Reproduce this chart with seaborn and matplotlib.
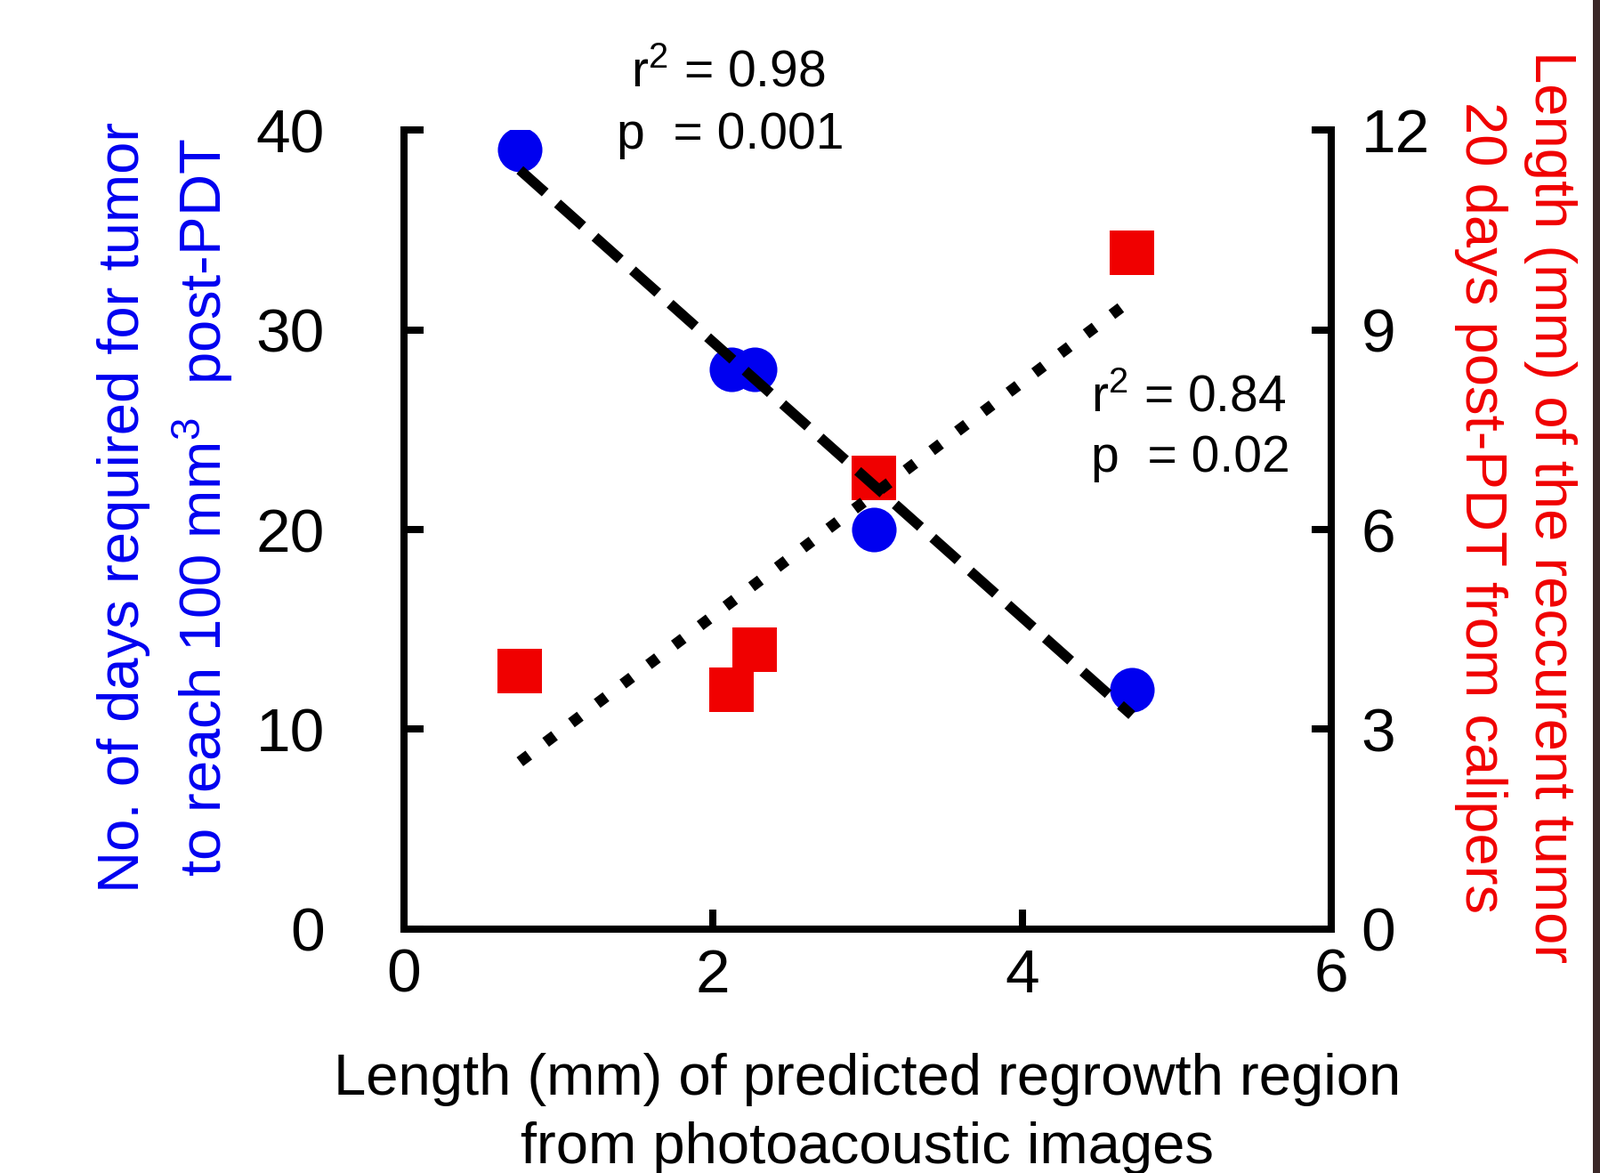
import numpy as np
import pandas as pd
import matplotlib
matplotlib.use("Agg")
import matplotlib.pyplot as plt
from matplotlib.patches import Rectangle
import seaborn as sns

# ---- data ----
pa_length = [0.75, 2.12, 2.27, 3.04, 4.71]          # x: predicted regrowth length (mm)
days_to_100 = [39, 28, 28, 20, 12]                   # left axis (blue circles)
caliper_length = [3.88, 3.59, 4.20, 6.77, 10.15]     # right axis (red squares)

x_ticks = [0, 2, 4, 6]
left_ticks = [0, 10, 20, 30, 40]
right_ticks = [0, 3, 6, 9, 12]

blue = "#0000F0"
red = "#F00000"

sns.set_style("white")
plt.rcParams["font.family"] = ["Liberation Sans", "DejaVu Sans"]
plt.rcParams["mathtext.fontset"] = "custom"
plt.rcParams["mathtext.rm"] = "Liberation Sans"
plt.rcParams["mathtext.it"] = "Liberation Sans:italic"
plt.rcParams["mathtext.bf"] = "Liberation Sans:bold"

fig = plt.figure(figsize=(17.98, 13.18), dpi=100)
ax = fig.add_axes([0.2525, 0.2079, 0.5795, 0.6813])
ax2 = ax.twinx()

df = pd.DataFrame({"x": pa_length, "days": days_to_100, "cal": caliper_length})

# blue circles + dashed fit (left axis)
sns.scatterplot(data=df, x="x", y="days", ax=ax, color=blue, marker="o",
                s=1300, linewidth=0, zorder=2, legend=False)
sns.regplot(data=df, x="x", y="days", ax=ax, scatter=False, ci=None, truncate=True,
            line_kws=dict(color="black", lw=8.3, linestyle=(0, (3.3, 1.6)),
                          solid_capstyle="butt", dash_capstyle="butt", zorder=3))

# red squares + dotted fit (right axis)
sns.scatterplot(data=df, x="x", y="cal", ax=ax2, color=red, marker="s",
                s=1250, linewidth=0, zorder=2, legend=False)
sns.regplot(data=df, x="x", y="cal", ax=ax2, scatter=False, ci=None, truncate=True,
            line_kws=dict(color="black", lw=9, linestyle=(0, (1, 1.9)),
                          dash_capstyle="butt", zorder=3))

# left axes (blue + dashed) drawn above the twin
ax.set_zorder(ax2.get_zorder() + 1)
ax.patch.set_visible(False)

ax.set_xlim(0, 6)
ax.set_ylim(0, 40)
ax2.set_ylim(0, 12)
ax.set_xticks(x_ticks)
ax.set_yticks(left_ticks)
ax2.set_yticks(right_ticks)

spine_w = 5.8
for s in ["top", "right"]:
    ax.spines[s].set_visible(False)
for s in ["top", "left", "bottom"]:
    ax2.spines[s].set_visible(False)
for s in ["left", "bottom"]:
    ax.spines[s].set_linewidth(spine_w)
    ax.spines[s].set_color("black")
ax2.spines["right"].set_linewidth(spine_w)
ax2.spines["right"].set_color("black")

ax.tick_params(axis="y", direction="in", length=16, width=spine_w, pad=64,
               labelsize=50, colors="black", left=True)
ax.tick_params(axis="x", direction="in", length=16, width=spine_w, pad=15,
               labelsize=50, colors="black", bottom=True)
ax2.tick_params(axis="y", direction="in", length=16, width=spine_w, pad=24,
                labelsize=50, colors="black", right=True)

# axis labels
ax.set_xlabel("Length (mm) of predicted regrowth region\nfrom photoacoustic images",
              fontsize=47, color="black", va="top", linespacing=1.35)
ax.xaxis.set_label_coords(0.5, -0.155)

ax.set_ylabel("No. of days required for tumor\nto reach 100 mm$^\\mathregular{3}$  post-PDT",
              fontsize=47, color=blue, rotation=90, ha="center", va="center",
              rotation_mode="default", multialignment="center", linespacing=1.38)
ax.yaxis.set_label_coords(-0.257, 0.528)

ax2.set_ylabel("Length (mm) of the reccurent tumor\n20 days post-PDT from calipers",
               fontsize=47, color=red, rotation=270, ha="center", va="center",
               rotation_mode="default", multialignment="center", linespacing=1.38)
ax2.yaxis.set_label_coords(1.199, 0.528)

# annotations (left-axis data coordinates)
ann = dict(fontsize=41, color="black", ha="left", va="baseline", clip_on=False)
ax.text(1.468, 42.18, "r$^\\mathregular{2}$ = 0.98", **ann)
ax.text(1.376, 39.06, "p  = 0.001", **ann)
ax.text(4.445, 25.92, "r$^\\mathregular{2}$ = 0.84", **ann)
ax.text(4.445, 22.90, "p  = 0.02", **ann)

# dark strip on the right edge of the reference image
fig.patches.append(Rectangle((1790 / 1798, 0), 8 / 1798, 1, transform=fig.transFigure,
                             facecolor="#3a2828", edgecolor="none", zorder=10))

fig.savefig("out.png", dpi=100)
